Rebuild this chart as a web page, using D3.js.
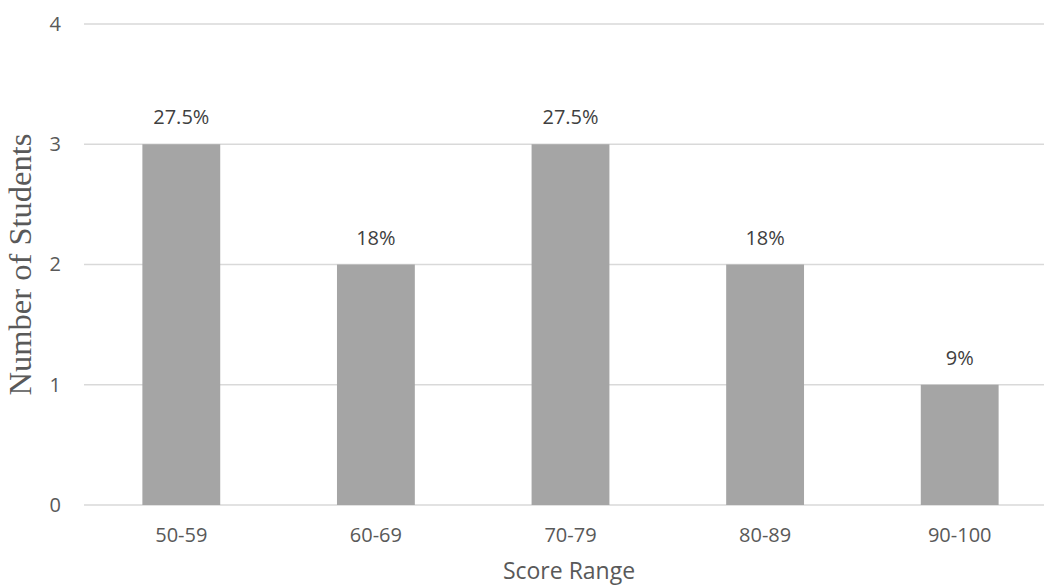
<!DOCTYPE html>
<html>
<head>
<meta charset="utf-8">
<script src="https://cdn.jsdelivr.net/npm/d3@7"></script>
<style>
  html, body { margin: 0; padding: 0; background: #fff; }
  svg { display: block; }
</style>
</head>
<body>
<svg id="chart" width="1044" height="586"></svg>
<script>
// Score distribution
const categories = ["50-59", "60-69", "70-79", "80-89", "90-100"];
const counts = [3, 2, 3, 2, 1];
const percentLabels = ["27.5%", "18%", "27.5%", "18%", "9%"];
const yTicks = [0, 1, 2, 3, 4];

const svg = d3.select("#chart");
const plotLeft = 84, plotRight = 1057, plotTop = 24, plotBottom = 505;
const labelFont = "'Open Sans', 'Liberation Sans', sans-serif";
const labelSize = "20px";

const x = d3.scaleBand().domain(categories).range([plotLeft, plotRight]).paddingInner(0.6).paddingOuter(0.3);
const y = d3.scaleLinear().domain([0, 4]).range([plotBottom, plotTop]);

// horizontal gridlines
svg.append("g").selectAll("line").data(yTicks).join("line")
  .attr("x1", plotLeft).attr("x2", plotRight)
  .attr("y1", d => y(d)).attr("y2", d => y(d))
  .attr("stroke", "#d9d9d9").attr("stroke-width", 1.5);

// y tick labels
const yAxis = d3.axisLeft(y).tickValues(yTicks).tickFormat(d3.format("d")).tickSize(0).tickPadding(23);
const ya = svg.append("g").attr("transform", `translate(${plotLeft},0)`).call(yAxis);
ya.select(".domain").remove();
ya.selectAll("text").attr("fill", "#595959").style("font-family", labelFont).style("font-size", labelSize);

// bars
svg.append("g").selectAll("rect").data(categories).join("rect")
  .attr("x", d => x(d))
  .attr("width", x.bandwidth())
  .attr("y", (d, i) => y(counts[i]))
  .attr("height", (d, i) => y(0) - y(counts[i]))
  .attr("fill", "#a5a5a5");

// value labels
svg.append("g").selectAll("text").data(categories).join("text")
  .attr("x", d => x(d) + x.bandwidth() / 2)
  .attr("y", (d, i) => y(counts[i]) - 20)
  .attr("text-anchor", "middle")
  .attr("fill", "#404040")
  .style("font-family", labelFont).style("font-size", labelSize)
  .text((d, i) => percentLabels[i]);

// x axis labels
const xAxis = d3.axisBottom(x).tickSize(0).tickPadding(23);
const xa = svg.append("g").attr("transform", `translate(0,${plotBottom})`).call(xAxis);
xa.select(".domain").remove();
xa.selectAll("text").attr("fill", "#595959").style("font-family", labelFont).style("font-size", labelSize);

// axis titles
svg.append("text")
  .attr("x", 569).attr("y", 579)
  .attr("text-anchor", "middle").attr("fill", "#595959")
  .style("font-family", labelFont).style("font-size", "23px")
  .text("Score Range");

svg.append("text")
  .attr("transform", `translate(31,${(plotTop + plotBottom) / 2}) rotate(-90)`)
  .attr("text-anchor", "middle").attr("fill", "#595959")
  .style("font-family", "'Liberation Serif', 'DejaVu Serif', serif").style("font-size", "32.5px")
  .text("Number of Students");
</script>
</body>
</html>
